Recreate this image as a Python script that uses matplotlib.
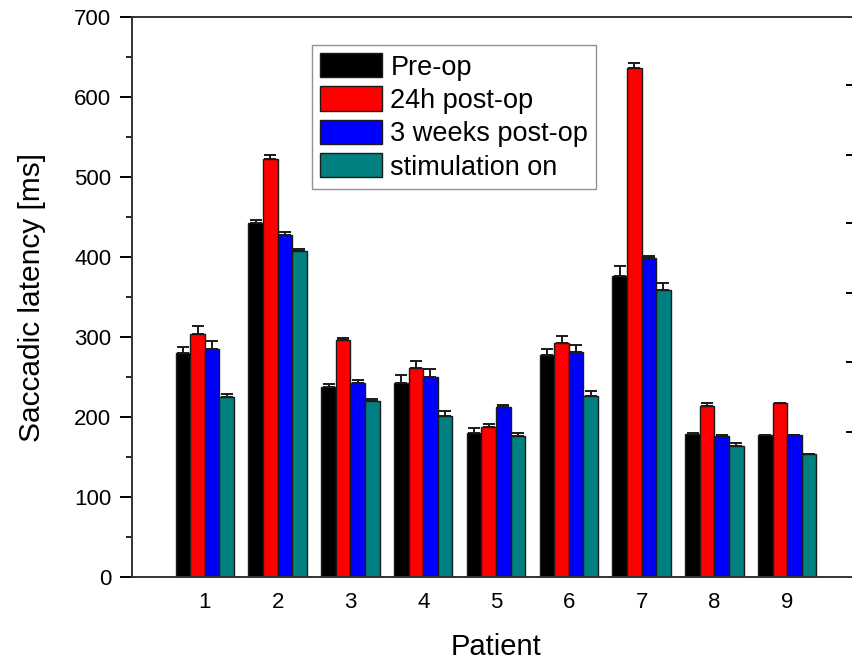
import numpy as np
import matplotlib
matplotlib.use("Agg")
import matplotlib.pyplot as plt
from matplotlib.ticker import MultipleLocator

plt.rcParams['font.family'] = ['Liberation Sans', 'DejaVu Sans']

patients = [1, 2, 3, 4, 5, 6, 7, 8, 9]
series = ["Pre-op", "24h post-op", "3 weeks post-op", "stimulation on"]
colors = ["#000000", "#ff0000", "#0000ff", "#008080"]

pre_op = [280, 443, 237, 243, 180, 278, 376, 179, 177]
post_24h = [304, 523, 296, 261, 188, 292, 636, 214, 217]
post_3w = [285, 428, 243, 250, 212, 281, 399, 176, 177]
stim_on = [225, 407, 220, 201, 176, 226, 359, 164, 154]

# upper error (SE)
pre_op_err = [7, 3, 4, 9, 6, 7, 13, 1, 0]
post_24h_err = [10, 4, 3, 9, 3, 9, 6, 3, 0]
post_3w_err = [10, 3, 3, 10, 3, 9, 2, 1, 0]
stim_on_err = [4, 3, 3, 7, 4, 7, 8, 3, 0]

# ticks of the neighbouring (cropped) panel on the right edge
neighbour_ticks = [181, 269, 355, 442, 528, 615]

values = [pre_op, post_24h, post_3w, stim_on]
errors = [pre_op_err, post_24h_err, post_3w_err, stim_on_err]

fig = plt.figure(figsize=(8.52, 6.59), dpi=100)
ax = fig.add_axes([132 / 852, 82 / 659, 728 / 852, 560 / 659])

x = np.array(patients, dtype=float)
w = 0.2
for i, (vals, errs) in enumerate(zip(values, errors)):
    pos = x + (i - 1.5) * w
    ax.bar(pos, vals, width=w, color=colors[i], edgecolor="#1a1a1a",
           linewidth=1.0, label=series[i], zorder=2)
    ax.errorbar(pos, vals, yerr=[np.zeros(len(errs)), errs], fmt="none",
                ecolor="#1a1a1a", elinewidth=1.4, capsize=4.5, capthick=1.4,
                zorder=3)

ax.set_xlim(0, 10)
ax.set_ylim(0, 700)
ax.set_xticks(patients)
ax.yaxis.set_major_locator(MultipleLocator(100))
ax.yaxis.set_minor_locator(MultipleLocator(50))
ax.tick_params(axis="x", length=0, pad=11, labelsize=16)
ax.tick_params(axis="y", which="major", direction="out", length=9,
               width=1.4, pad=6, labelsize=16)
ax.tick_params(axis="y", which="minor", direction="out", length=4, width=1.2)
for side in ["left", "bottom", "top", "right"]:
    ax.spines[side].set_linewidth(1.4)
    ax.spines[side].set_color("#333333")

ax.set_ylabel("Saccadic latency [ms]", fontsize=21.5, labelpad=20)
ax.set_xlabel("Patient", fontsize=21, labelpad=14)

leg = ax.legend(loc="upper left", bbox_to_anchor=(0.247, 0.95), fontsize=19.5,
                frameon=True, fancybox=False, edgecolor="#777777",
                handlelength=2.3, handleheight=1.0, handletextpad=0.3,
                labelspacing=0.22, borderpad=0.3, borderaxespad=0)
leg.get_frame().set_linewidth(1.0)

# cropped neighbour panel axis
ax2 = fig.add_axes([857 / 852, 82 / 659, 0.1, 560 / 659])
ax2.set_ylim(0, 700)
ax2.set_xticks([])
ax2.set_yticks(neighbour_ticks)
ax2.set_yticklabels([])
ax2.tick_params(axis="y", direction="out", length=8, width=1.4)
for side in ["right", "bottom", "top"]:
    ax2.spines[side].set_visible(False)
ax2.patch.set_alpha(0)

fig.savefig("out.png", dpi=100)
